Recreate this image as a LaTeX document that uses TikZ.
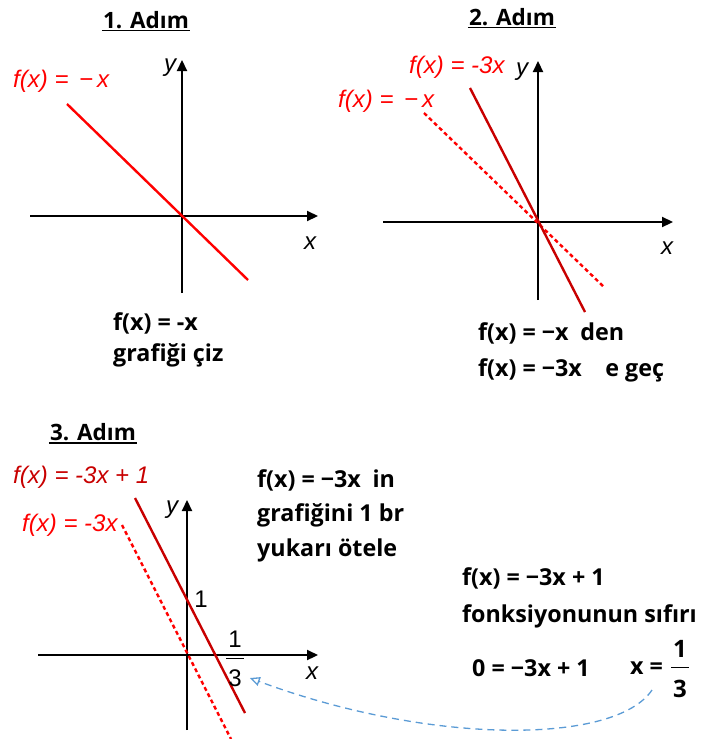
\documentclass[tikz,border=0pt]{standalone}
\usepackage{fontspec}
\setmainfont{Open Sans}
\newfontfamily\lab{Liberation Sans}
\usetikzlibrary{arrows.meta}
\definecolor{rA}{HTML}{FF0000}
\definecolor{rB}{HTML}{C80000}
\definecolor{bl}{HTML}{5B9BD5}
\tikzset{
  axis/.style={line width=2.2pt, -{Triangle[length=11pt,width=10pt]}},
  ttl/.style={font=\fontsize{22.5}{26}\selectfont\bfseries, inner sep=1pt},
  txt/.style={font=\fontsize{23.3}{28}\selectfont\bfseries, anchor=west, inner sep=0pt},
  lbl/.style={font=\lab\itshape\fontsize{24}{28}\selectfont, inner sep=0pt},
  num/.style={font=\lab\fontsize{24}{28}\selectfont, inner sep=0pt},
  bnum/.style={font=\fontsize{24}{28}\selectfont\bfseries, inner sep=0pt},
  graph/.style={line width=2.4pt},
  dgraph/.style={line width=2.4pt, dash pattern=on 4pt off 3pt},
}
\begin{document}
\begin{tikzpicture}[x=1pt,y=-1pt]
\useasboundingbox (0,0) rectangle (712,739);
% ---------- Panel 1 ----------
\node[ttl] (t1) at (146,20) {1. Adım};
\draw[line width=1.2pt] ([yshift=-1pt]t1.south west) -- ([yshift=-1pt]t1.south east);
\coordinate (a1l) at (30,216); \coordinate (a1r) at (318,216);
\coordinate (a1b) at (182,293); \coordinate (a1t) at (182,60);
\draw[axis] (a1l) -- (a1r);
\draw[axis] (a1b) -- (a1t);
\node[lbl] (y1) at (170,68) {y};
\node[lbl] (x1) at (310,243) {x};
\coordinate (g1s) at (67,104); \coordinate (g1e) at (248,280);
\draw[graph, rA] (g1s) -- (g1e);
\node[lbl, rA, anchor=west] (l1) at (13,81) {f(x) = \,−\,x};
\node[txt] (p1a) at (113,323) {f(x) = -x};
\node[txt] (p1b) at (113,355) {grafiği çiz};
% ---------- Panel 2 ----------
\node[ttl] (t2) at (512,17) {2. Adım};
\draw[line width=1.2pt] ([yshift=-1pt]t2.south west) -- ([yshift=-1pt]t2.south east);
\coordinate (a2l) at (383,222); \coordinate (a2r) at (673,222);
\coordinate (a2b) at (538,300); \coordinate (a2t) at (538,61);
\draw[axis] (a2l) -- (a2r);
\draw[axis] (a2b) -- (a2t);
\node[lbl] (y2) at (522,72) {y};
\node[lbl] (x2) at (667,248) {x};
\coordinate (g2s) at (424,113); \coordinate (g2e) at (605,288);
\draw[dgraph, rA] (g2s) -- (g2e);
\coordinate (g3s) at (470,88); \coordinate (g3e) at (585,312);
\draw[graph, rB] (g3s) -- (g3e);
\node[lbl, rA, anchor=west] (l2a) at (409,67) {f(x) = -3x};
\node[lbl, rA, anchor=west] (l2b) at (338,101) {f(x) = \,−\,x};
\node[txt] (p2a) at (478,333) {f(x) = −x\enspace den};
\node[txt] (p2b) at (478,370) {f(x) = −3x\quad e geç};
% ---------- Panel 3 ----------
\node[ttl] (t3) at (93,432) {3. Adım};
\draw[line width=1.2pt] ([yshift=-1pt]t3.south west) -- ([yshift=-1pt]t3.south east);
\coordinate (a3l) at (38,655); \coordinate (a3r) at (318,655);
\coordinate (a3b) at (187,730); \coordinate (a3t) at (187,500);
\draw[axis] (a3l) -- (a3r);
\draw[axis] (a3b) -- (a3t);
\node[lbl] (y3) at (172,510) {y};
\node[lbl] (x3) at (312,673) {x};
\coordinate (g4s) at (122,525); \coordinate (g4e) at (231,739);
\draw[dgraph, rA] (g4s) -- (g4e);
\coordinate (g5s) at (135,498); \coordinate (g5e) at (245,713);
\draw[graph, rB] (g5s) -- (g5e);
\node[lbl, rB, anchor=west] (l3a) at (13,477) {f(x) = -3x + 1};
\node[lbl, rA, anchor=west] (l3b) at (22,525) {f(x) = -3x};
\node[num] (one) at (201,599) {1};
\node[num] (fn) at (235,639) {1};
\draw[line width=1pt] (226,658) -- (244,658);
\node[num] (fd) at (235,678) {3};
% ---------- right-hand texts ----------
\node[txt] (p3a) at (257,480) {f(x) = −3x\enspace in};
\node[txt] (p3b) at (257,515) {grafiğini 1 br};
\node[txt] (p3c) at (257,550) {yukarı ötele};
\node[txt] (p4a) at (462,578) {f(x) = −3x + 1};
\node[txt] (p4b) at (462,616) {fonksiyonunun sıfırı};
\node[txt] (p4c) at (472,668) {0 = −3x + 1};
\node[txt] (p4d) at (630,668) {x =};
\node[bnum] (rn) at (680,649) {1};
\draw[line width=1pt] (671,667) -- (689,667);
\node[bnum] (rd) at (680,689) {3};
\coordinate (arrS) at (652,690);
\draw[bl, line width=1.3pt, dash pattern=on 7pt off 5pt, -{Stealth[length=10pt,width=9pt,inset=0pt, open]}]
  (arrS) .. controls (615,745) and (430,745) .. ([xshift=8pt]fd.east);
\end{tikzpicture}
\end{document}
